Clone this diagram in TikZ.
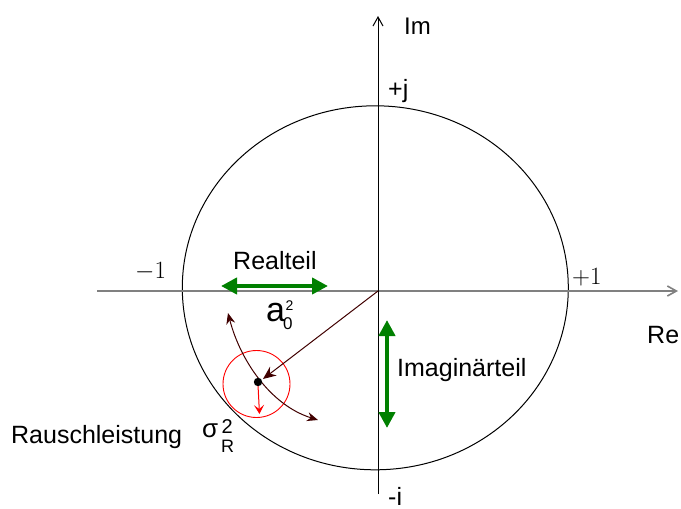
\documentclass[tikz,border=0pt]{standalone}
\usepackage{fontspec}
\newfontfamily\arial{Liberation Sans}
\usetikzlibrary{arrows.meta}
\definecolor{brownline}{RGB}{64,0,0}
\definecolor{axisgray}{RGB}{128,128,128}
\definecolor{greenarrow}{RGB}{0,128,0}
\tikzset{
  lbl/.style={inner sep=0pt, anchor=base west, font=\arial\fontsize{25}{30}\selectfont},
  serifnum/.style={inner sep=0pt, anchor=base west, font=\fontsize{26}{30}\selectfont},
  axisarrow/.style={-{Straight Barb[length=9pt,width=10pt]}},
  greenbi/.style={draw=greenarrow, line width=4pt, {Triangle[length=16pt,width=16pt]}-{Triangle[length=16pt,width=16pt]}, greenarrow},
  brownarr/.style={draw=brownline, line width=1pt},
}
\begin{document}
\begin{tikzpicture}[x=1pt,y=-1pt]
\useasboundingbox (0,0) rectangle (681,509);
% coordinates
\coordinate (O) at (378,291);
\coordinate (xL) at (97,291);
\coordinate (xR) at (678,291);
\coordinate (yB) at (378,494);
\coordinate (yT) at (378,16);
\coordinate (P) at (258,382);
\coordinate (Ptip) at (263,379);
% unit circle (slightly elliptic)
\draw[line width=1pt] (375.3,287.8) ellipse [x radius=193, y radius=182];
% axes
\draw[axisgray, line width=1.6pt, axisarrow] (xL) -- (xR);
\draw[black, line width=1pt, axisarrow] (yB) -- (yT);
% green arrows
\coordinate (gh1) at (221,286);
\coordinate (gh2) at (328,286);
\coordinate (gv1) at (387,320);
\coordinate (gv2) at (387,428);
\draw[greenbi] (gh1) -- (gh2);
\draw[greenbi] (gv1) -- (gv2);
% red noise circle
\draw[red, line width=0.9pt] (256.5,384) circle[radius=33.5];
\coordinate (rtip) at (259.5,414);
\draw[red, line width=1pt, -{Stealth[length=9pt,width=10pt,inset=4pt]}] (258,385) -- (rtip);
% brown arc through the point
\coordinate (arcA) at (228,313);
\coordinate (arcB) at (318,420);
\draw[brownarr, {Stealth[length=11pt,width=9pt]}-{Stealth[length=11pt,width=9pt]}]
  (arcA) .. controls (240,359.5) and (270,405) .. (arcB);
% brown radial arrow
\draw[brownarr, -{Stealth[length=13pt,width=11pt]}] (O) -- (Ptip);
% dot
\fill[black] (P) circle[radius=4.2];
% labels
\node[lbl, font=\arial\fontsize{24}{28}\selectfont] (im) at (404,34) {Im};
\node[lbl] (pj) at (388,97) {+j};
\node[lbl] (mi) at (388,505) {-i};
\node[lbl] (re) at (647,343) {Re};
\node[lbl] (realteil) at (233,269) {Realteil};
\node[lbl] (imagteil) at (397,376) {Imaginärteil};
\node[lbl] (rausch) at (11,443) {Rauschleistung};
\node[serifnum] (p1) at (572,284) {$+1$};
\node[serifnum] (m1) at (135,278) {$-1$};
% a_0^2
\node[lbl, font=\arial\fontsize{34}{40}\selectfont] (a) at (266,321) {a};
\node[lbl, font=\arial\fontsize{14}{16}\selectfont] (a2) at (285.5,310) {2};
\node[lbl, font=\arial\fontsize{17}{20}\selectfont] (a0) at (283,329) {0};
% sigma_R^2
\node[lbl, font=\arial\fontsize{26}{30}\selectfont] (sig) at (202,437) {σ};
\node[lbl, font=\arial\fontsize{20}{24}\selectfont] (s2) at (221.5,433) {2};
\node[lbl, font=\arial\fontsize{18}{22}\selectfont] (sR) at (221,452) {R};
\end{tikzpicture}
\end{document}
